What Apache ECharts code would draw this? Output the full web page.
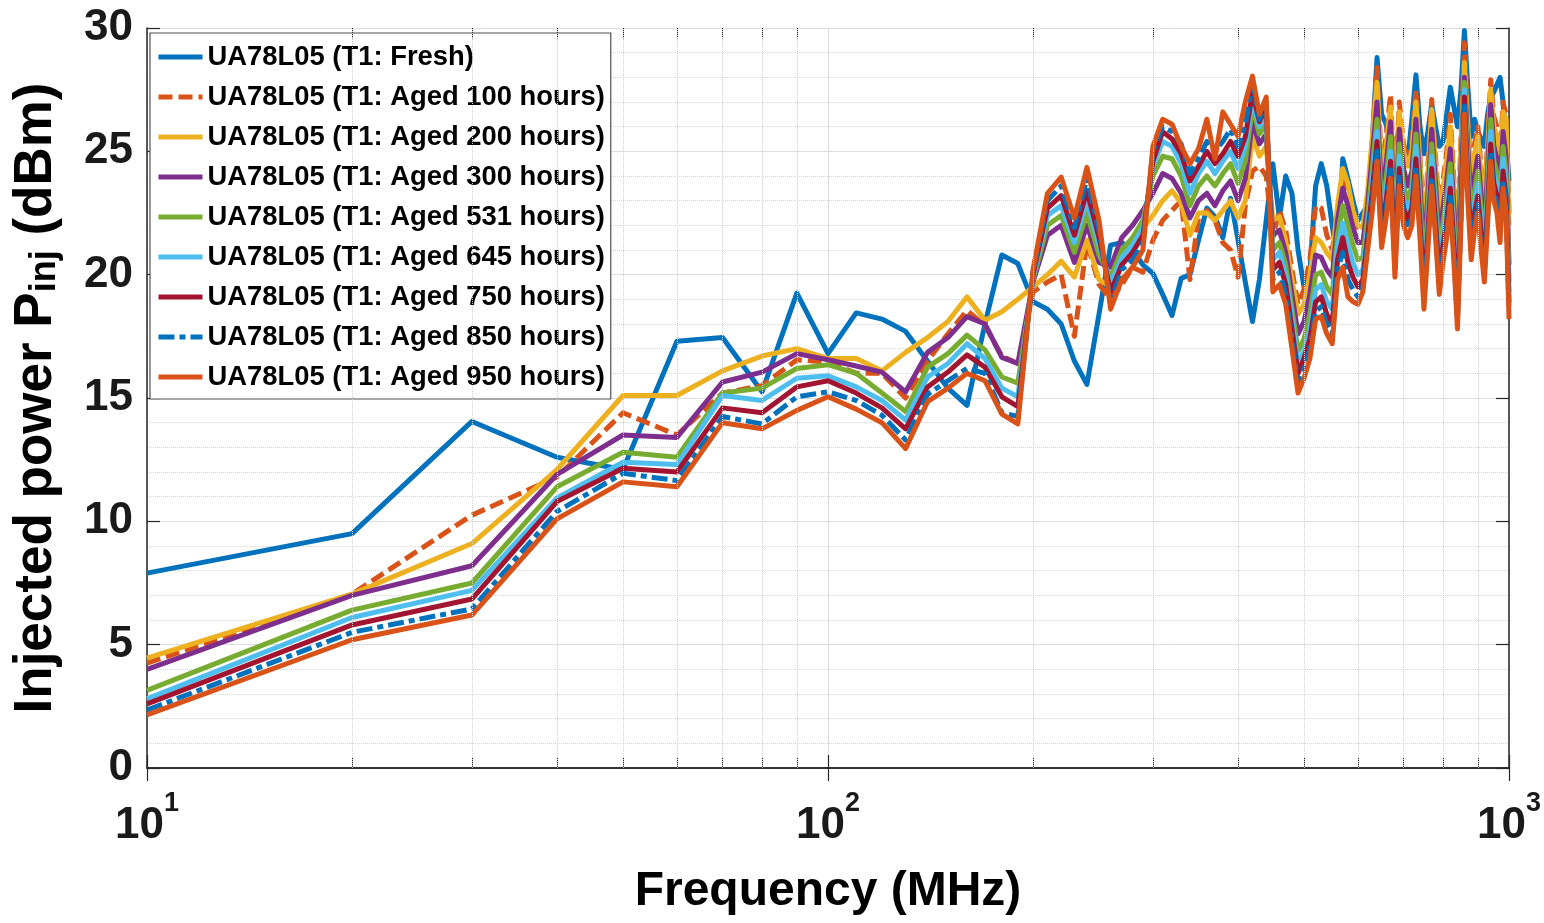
<!DOCTYPE html>
<html><head><meta charset="utf-8">
<script src="https://cdn.jsdelivr.net/npm/echarts@6/dist/echarts.min.js"></script>
<style>html,body{margin:0;padding:0;background:#fff;}#c{width:1544px;height:923px;}</style>
</head><body><div id="c"></div>
<script>
const freqs = [10,20,30,40,50,60,70,80,90,100,110,120,130,140,150,160,170,180,190,200,210,220,230,240,250,260,270,280,290,300,310,320,330,340,350,360,370,380,390,400,410,420,430,440,450,460,470,480,490,500,510,520,530,540,550,560,570,580,590,600,610,620,630,640,650,660,670,680,690,700,710,720,730,740,750,760,770,780,790,800,810,820,830,840,850,860,870,880,890,900,910,920,930,940,950,960,970,980,990,1000];

const fresh = [7.9,9.5,14.05,12.6,12.1,17.3,17.45,15.25,19.25,16.8,
18.45,18.2,17.7,16.5,15.4,14.7,18.0,20.8,20.45,18.9,
18.6,18.0,16.5,15.55,18.4,21.2,21.3,21.0,20.4,20.05,
19.2,18.35,19.85,20.0,21.4,22.7,22.35,21.5,23.1,21.4,
19.7,18.1,19.8,22.2,24.5,22.3,24.0,23.3,21.0,19.5,
20.1,23.6,24.5,23.6,22.0,20.6,24.7,23.9,23.0,22.2,
22.5,22.8,25.5,28.8,26.5,26.1,25.0,25.3,25.8,25.0,
24.65,26.3,28.1,26.0,24.9,25.8,26.9,26.0,25.2,25.4,
26.5,27.6,26.8,26.0,27.5,29.9,27.6,25.6,26.3,25.8,
25.5,25.2,26.5,27.2,27.4,27.7,28.0,27.0,25.5,23.8];

const aged100 = [4.25,7.05,10.25,11.8,14.4,13.5,15.2,15.5,16.55,16.45,
16.0,16.0,15.0,16.5,17.6,18.55,17.95,16.7,16.4,19.3,
19.7,20.0,17.5,21.3,19.6,19.0,19.6,20.3,20.1,21.4,
22.2,22.6,23.0,19.8,22.3,22.6,22.2,21.3,21.0,19.9,
22.8,24.2,24.4,24.0,21.5,22.6,21.8,20.2,18.8,19.4,
20.6,22.8,22.7,21.6,21.0,22.5,24.0,23.3,22.4,21.9,
21.8,23.2,25.3,28.4,24.3,25.6,27.3,23.0,27.0,25.3,
24.6,25.4,27.5,24.8,21.8,24.4,27.1,24.8,22.4,23.8,
25.0,26.5,23.8,21.0,25.6,29.4,26.4,23.8,25.3,26.0,
24.3,22.8,25.4,27.9,26.4,26.0,24.7,27.0,26.5,22.5];

const aged200 = [4.45,7.05,9.1,12.1,15.1,15.1,16.1,16.7,17.0,16.6,
16.6,16.1,16.85,17.45,18.1,19.1,18.15,18.5,19.0,19.5,
20.0,20.55,19.9,21.4,19.8,19.5,20.9,21.3,21.9,22.4,
23.0,23.4,22.9,21.6,22.5,22.5,22.2,22.6,23.0,22.3,
23.0,25.6,24.8,25.2,22.2,22.35,21.4,19.8,18.4,18.8,
20.0,21.5,21.3,20.9,20.6,22.8,24.3,23.7,22.6,22.0,
21.9,23.4,25.6,27.8,24.0,25.2,26.8,22.8,26.6,25.0,
24.4,25.0,27.0,24.5,21.6,24.0,26.7,24.5,22.2,23.5,
24.6,26.0,23.5,20.8,25.2,28.6,26.0,23.6,24.9,25.6,
24.0,22.6,25.0,27.5,26.0,25.6,24.4,26.6,26.3,22.0];

const aged300 = [4.0,7.0,8.2,11.9,13.5,13.4,15.65,16.05,16.8,16.55,
16.3,16.05,15.25,16.85,17.45,18.3,18.0,16.65,16.4,19.7,
21.6,22.0,20.5,22.0,20.5,20.3,21.5,22.0,22.6,23.3,
24.1,23.9,23.3,22.3,23.0,23.3,22.8,23.4,23.8,23.0,
23.9,26.2,25.3,25.7,21.6,21.8,20.9,19.2,17.6,18.1,
19.2,20.8,20.7,20.2,19.9,22.2,23.5,22.8,21.9,21.3,
21.3,22.8,24.9,27.0,23.2,24.5,26.2,21.9,25.9,24.3,
23.6,24.2,26.3,23.7,20.7,23.2,25.9,23.7,21.3,22.7,
23.8,25.1,22.7,19.8,24.3,28.0,25.2,22.7,24.0,24.8,
23.2,21.7,24.2,26.9,25.2,24.7,23.4,25.8,24.8,20.4];

const aged531 = [3.15,6.4,7.5,11.4,12.8,12.6,15.2,15.4,16.2,16.35,
16.0,15.2,14.45,16.25,16.8,17.55,16.95,15.85,15.6,19.8,
22.0,22.4,20.9,22.5,20.8,19.9,21.0,21.5,22.2,24.0,
24.8,24.7,24.0,22.8,23.6,24.0,23.6,24.1,24.5,23.7,
24.6,26.8,25.7,26.1,21.0,21.3,20.4,18.6,16.9,17.4,
18.4,20.0,20.1,19.5,19.2,21.6,22.8,22.0,21.2,20.6,
20.7,22.3,24.3,26.3,22.7,23.9,25.6,21.4,25.3,23.6,
23.0,23.6,25.7,23.1,20.1,22.6,25.3,23.1,20.8,22.1,
23.1,24.5,22.1,19.3,23.6,27.8,24.6,22.1,23.4,24.2,
22.6,21.2,23.6,26.3,24.6,24.1,22.8,25.2,24.1,19.7];

const aged645 = [2.8,6.1,7.2,10.95,12.4,12.3,15.1,14.9,15.8,15.9,
15.45,14.9,14.1,15.85,16.4,17.2,16.6,15.4,15.05,19.9,
22.4,22.8,21.3,23.0,21.2,19.6,20.7,21.2,21.9,24.4,
25.4,25.2,24.5,23.3,24.1,24.6,24.1,24.6,25.0,24.3,
25.2,27.1,26.0,26.5,20.6,20.9,20.0,18.2,16.4,16.9,
17.8,19.4,19.6,18.9,18.6,21.1,22.1,21.2,20.5,20.0,
20.2,21.9,23.8,25.8,22.2,23.4,25.0,21.0,24.8,23.1,
22.6,23.1,25.2,22.6,19.6,22.1,24.8,22.6,20.3,21.6,
22.6,24.0,21.6,18.9,23.1,27.5,24.1,21.7,22.9,23.7,
22.1,20.8,23.1,25.8,24.1,23.6,22.4,24.7,23.6,19.3];

const aged750 = [2.6,5.8,6.85,10.8,12.15,12.0,14.6,14.4,15.45,15.7,
15.2,14.6,13.75,15.45,16.05,16.75,16.25,15.05,14.65,20.0,
22.7,23.2,21.6,23.4,21.5,19.3,20.4,20.9,21.6,24.6,
25.8,25.5,24.9,23.8,24.4,25.0,24.5,24.9,25.4,24.8,
25.6,27.4,26.2,26.8,20.2,20.5,19.6,17.8,16.0,16.6,
17.4,18.9,19.1,18.4,18.0,20.6,21.5,20.5,19.9,19.5,
19.8,21.6,23.4,25.4,21.8,23.0,24.6,20.6,24.3,22.7,
22.2,22.7,24.7,22.2,19.3,21.7,24.3,22.2,19.9,21.2,
22.2,23.5,21.2,18.5,22.7,27.2,23.7,21.3,22.5,23.2,
21.7,20.4,22.7,25.3,23.7,23.2,22.0,24.2,23.2,18.9];

const aged850 = [2.35,5.5,6.45,10.4,11.95,11.65,14.25,13.95,15.05,15.25,
14.9,14.3,13.3,15.15,15.7,16.2,16.0,14.4,14.25,20.1,
23.0,23.6,21.9,23.9,21.8,18.9,20.2,20.6,21.3,25.0,
26.0,25.8,25.3,24.1,24.7,25.4,25.0,25.4,25.9,25.2,
26.1,27.7,26.3,27.0,19.8,20.1,19.2,17.4,15.6,16.2,
17.0,18.5,18.7,18.0,17.6,20.2,20.9,19.8,19.4,19.1,
19.5,21.3,23.0,25.0,21.45,22.65,24.25,20.25,23.95,22.35,
21.85,22.35,24.35,21.85,18.95,21.35,23.95,21.85,19.55,20.85,
21.85,23.15,20.85,18.15,22.35,26.85,23.35,20.95,22.15,22.85,
21.35,20.05,22.35,24.95,23.35,22.85,21.65,23.85,22.85,18.55];

const aged950 = [2.15,5.2,6.2,10.1,11.6,11.4,14.0,13.75,14.5,15.05,
14.55,14.0,12.95,14.85,15.4,16.0,15.7,14.35,13.95,20.2,
23.3,23.95,22.3,24.35,22.2,18.6,19.8,20.3,21.0,25.2,
26.3,26.1,25.2,24.5,25.1,26.3,24.7,26.6,26.1,25.6,
27.0,28.05,26.5,27.2,19.3,19.6,18.8,17.0,15.2,15.8,
16.6,18.2,18.3,17.6,17.2,19.8,20.3,19.1,18.9,18.8,
19.3,21.0,22.6,24.6,21.1,22.3,23.9,19.9,23.6,22.0,
21.5,22.0,24.0,21.5,18.6,21.0,23.6,21.5,19.2,20.5,
21.5,22.8,20.5,17.8,22.0,26.5,23.0,20.6,21.8,22.5,
21.0,19.7,22.0,24.6,23.0,22.5,21.3,23.5,22.5,18.2];

const seriesNames = ['UA78L05 (T1: Fresh)','UA78L05 (T1: Aged 100 hours)','UA78L05 (T1: Aged 200 hours)','UA78L05 (T1: Aged 300 hours)','UA78L05 (T1: Aged 531 hours)','UA78L05 (T1: Aged 645 hours)','UA78L05 (T1: Aged 750 hours)','UA78L05 (T1: Aged 850 hours)','UA78L05 (T1: Aged 950 hours)'];
const seriesValues = [fresh, aged100, aged200, aged300, aged531, aged645, aged750, aged850, aged950];
const seriesColors = ['#0072BD','#D95319','#EDB120','#7E2F8E','#77AC30','#4DBEEE','#A2142F','#0072BD','#D95319'];
const seriesDash = ['solid',[14,6],'solid','solid','solid','solid','solid',[16,5,6,5],'solid'];

const xTickValues = [10, 100, 1000];
const xTickExponents = ['1', '2', '3'];
const yTickLabels = ['0','5','10','15','20','25','30'];
const minorFreqs = [20,30,40,50,60,70,80,90,200,300,400,500,600,700,800,900];

const FONT = "'Liberation Sans',Arial,Helvetica,sans-serif";
const AX = '#262626';

const chart = echarts.init(document.getElementById('c'));

const series = seriesNames.map((name, k) => ({
  name: name,
  type: 'line',
  xAxisIndex: 0, yAxisIndex: 0,
  showSymbol: false, symbol: 'none',
  lineStyle: { width: 5, color: seriesColors[k], type: seriesDash[k], join: 'round' },
  itemStyle: { color: seriesColors[k] },
  emphasis: { disabled: true },
  data: freqs.map((f, i) => [f, seriesValues[k][i]])
}));

const minorTickLines = [];
minorFreqs.forEach(f => {
  minorTickLines.push([{ coord: [f, 0] }, { coord: [f, 0.42] }]);
  minorTickLines.push([{ coord: [f, 29.58] }, { coord: [f, 30] }]);
});

series.unshift({
  name: 'grid-minor', type: 'line', data: [], silent: true,
  xAxisIndex: 0, yAxisIndex: 0,
  markLine: {
    silent: true, symbol: ['none', 'none'], label: { show: false },
    lineStyle: { type: 'dotted', color: '#cfcfcf', width: 1 },
    data: minorFreqs.map(f => ({ xAxis: f }))
  }
});
series.unshift({
  name: 'tick-minor', type: 'line', data: [], silent: true, z: 5,
  xAxisIndex: 0, yAxisIndex: 0,
  markLine: {
    silent: true, symbol: ['none', 'none'], label: { show: false },
    lineStyle: { type: 'solid', color: AX, width: 1 },
    data: minorTickLines
  }
});

const option = {
  animation: false,
  backgroundColor: '#ffffff',
  grid: { left: 147, right: 34, top: 28, bottom: 155, containLabel: false },
  legend: {
    data: seriesNames,
    left: 150, top: 33, orient: 'vertical',
    backgroundColor: '#ffffff', borderColor: '#505050', borderWidth: 1.2,
    padding: [9, 6, 7, 6],
    itemWidth: 44, itemHeight: 14, itemGap: 10,
    itemStyle: { opacity: 0 },
    lineStyle: { width: 5 },
    textStyle: { fontFamily: FONT, fontWeight: 'bold', fontSize: 27.4, lineHeight: 30, color: '#000' }
  },
  xAxis: [{
    type: 'log', logBase: 10, min: 10, max: 1000, position: 'bottom',
    axisLine: { show: true, lineStyle: { color: AX, width: 1.5 } },
    axisTick: { show: true, inside: true, length: 13, lineStyle: { color: AX, width: 1.2 } },
    splitLine: { show: true, lineStyle: { color: '#dddddd', width: 1 } },
    axisLabel: {
      margin: 22,
      formatter: v => {
        const idx = xTickValues.indexOf(Math.round(v));
        return idx < 0 ? '' : '{b|10}{s|' + xTickExponents[idx] + '}';
      },
      rich: {
        b: { fontFamily: FONT, fontWeight: 'bold', fontSize: 44, color: '#1a1a1a', lineHeight: 58, verticalAlign: 'bottom' },
        s: { fontFamily: FONT, fontWeight: 'bold', fontSize: 27, color: '#1a1a1a', verticalAlign: 'top', lineHeight: 27 }
      }
    },
    name: 'Frequency (MHz)', nameLocation: 'middle', nameGap: 100,
    nameTextStyle: { fontFamily: FONT, fontWeight: 'bold', fontSize: 48, color: '#000' }
  }, {
    type: 'log', logBase: 10, min: 10, max: 1000, position: 'top',
    axisLine: { show: true, lineStyle: { color: AX, width: 1.5 } },
    axisTick: { show: true, inside: true, length: 13, lineStyle: { color: AX, width: 1.2 } },
    axisLabel: { show: false }, splitLine: { show: false }
  }],
  yAxis: [{
    type: 'value', min: 0, max: 30, interval: 5, position: 'left',
    axisLine: { show: true, lineStyle: { color: AX, width: 1.5 } },
    axisTick: { show: true, inside: true, length: 13, lineStyle: { color: AX, width: 1.2 } },
    splitLine: { show: true, lineStyle: { color: '#dddddd', width: 1 } },
    minorTick: { show: false, splitNumber: 5 },
    minorSplitLine: { show: true, lineStyle: { color: '#d6d6d6', width: 1, type: 'dotted' } },
    axisLabel: {
      margin: 14,
      formatter: v => yTickLabels[Math.round(v / 5)],
      fontFamily: FONT, fontWeight: 'bold', fontSize: 44, color: '#1a1a1a'
    },
    name: 'Injected power P{sub|inj} (dBm)', nameLocation: 'middle', nameGap: 84, nameRotate: 90,
    nameTextStyle: {
      fontFamily: FONT, fontWeight: 'bold', fontSize: 53, color: '#000',
      rich: {
        sub: { fontFamily: FONT, fontWeight: 'bold', fontSize: 36, color: '#000', verticalAlign: 'bottom' }
      }
    }
  }, {
    type: 'value', min: 0, max: 30, interval: 5, position: 'right',
    axisLine: { show: true, lineStyle: { color: AX, width: 1.5 } },
    axisTick: { show: true, inside: true, length: 13, lineStyle: { color: AX, width: 1.2 } },
    axisLabel: { show: false }, splitLine: { show: false }
  }],
  series: series
};
chart.setOption(option);
</script>
</body></html>
